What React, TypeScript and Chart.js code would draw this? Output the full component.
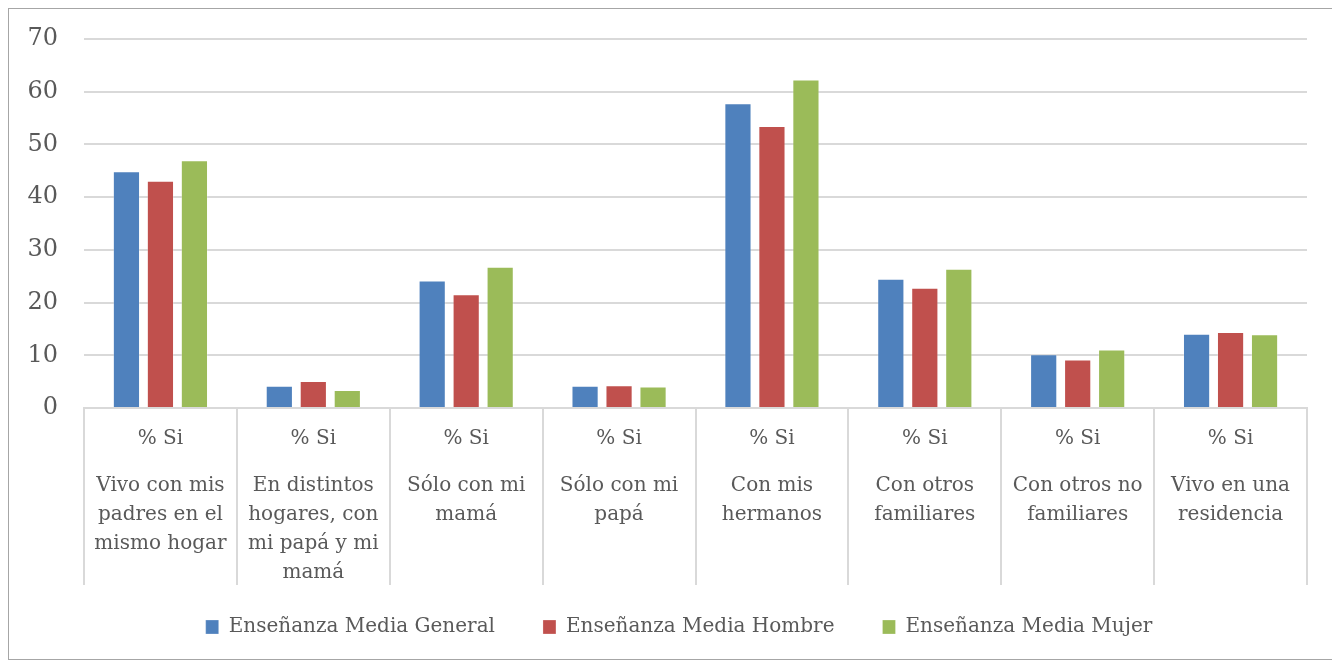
import React, { useEffect, useRef } from "react";
import { Chart, registerables } from "chart.js";

Chart.register(...registerables);

const subLabels = ["% Si", "% Si", "% Si", "% Si", "% Si", "% Si", "% Si", "% Si"];
const categories: string[][] = [
  ["Vivo con mis", "padres en el", "mismo hogar"],
  ["En distintos", "hogares, con", "mi papá y mi", "mamá"],
  ["Sólo con mi", "mamá"],
  ["Sólo con mi", "papá"],
  ["Con mis", "hermanos"],
  ["Con otros", "familiares"],
  ["Con otros no", "familiares"],
  ["Vivo en una", "residencia"],
];
const seriesNames = ["Enseñanza Media General", "Enseñanza Media Hombre", "Enseñanza Media Mujer"];
const generalValues = [44.9, 4.2, 24.2, 4.2, 57.8, 24.5, 10.2, 14.1];
const hombreValues = [43.1, 5.1, 21.6, 4.3, 53.5, 22.8, 9.2, 14.4];
const mujerValues = [47.0, 3.4, 26.8, 4.1, 62.3, 26.4, 11.1, 14.0];
const seriesColors = ["#4F81BD", "#C0504D", "#9BBB59"];
const yMax = 70;
const yStep = 10;

const FONT = "'DejaVu Serif', serif";
const TEXT = "#595959";
const GRID = "#D9D9D9";

const separatorPlugin = {
  id: "separators",
  afterLayout(chart: any) {
    const lg = chart.legend;
    if (lg) {
      lg.top -= 12;
      lg.bottom -= 12;
      lg.left += 21;
      lg.right += 21;
    }
  },
  afterDraw(chart: any) {
    const x = chart.scales.x;
    const x2 = chart.scales.x2;
    const ctx = chart.ctx;
    ctx.save();
    ctx.strokeStyle = GRID;
    ctx.lineWidth = 2;
    const endY = x2.top + 127;
    for (let i = 0; i <= subLabels.length; i++) {
      const px = Math.round(x.getPixelForValue(i - 0.5));
      ctx.beginPath();
      ctx.moveTo(px, chart.chartArea.bottom);
      ctx.lineTo(px, endY);
      ctx.stroke();
    }
    ctx.restore();
  },
};

export default function App() {
  const ref = useRef<HTMLCanvasElement>(null);
  useEffect(() => {
    if (!ref.current) return;
    const chart = new Chart(ref.current, {
      type: "bar",
      data: {
        labels: subLabels,
        datasets: [generalValues, hombreValues, mujerValues].map((d, i) => ({
          label: seriesNames[i],
          data: d,
          backgroundColor: seriesColors[i],
          borderColor: "rgba(255,255,255,0.25)",
          borderWidth: 1,
          categoryPercentage: 0.667,
          barPercentage: 0.8,
        })),
      },
      options: {
        animation: false,
        responsive: false,
        maintainAspectRatio: false,
        layout: { padding: { left: 0, right: 28, top: 30, bottom: 0 } },
        plugins: {
          tooltip: { enabled: false },
          legend: {
            position: "bottom",
            labels: {
              font: { family: FONT, size: 20 },
              color: TEXT,
              boxWidth: 13,
              boxHeight: 14,
              padding: 48,
            },
          },
        },
        scales: {
          x: {
            type: "category",
            labels: subLabels,
            position: "bottom",
            weight: 0,
            grid: { display: false },
            border: { display: true, color: GRID, width: 2 },
            ticks: {
              font: { family: FONT, size: 20 },
              color: TEXT,
              padding: 11,
              maxRotation: 0,
              autoSkip: false,
            },
            afterFit(scale: any) {
              scale.height = 50;
            },
          },
          x2: {
            type: "category",
            labels: categories as any,
            position: "bottom",
            weight: 1,
            offset: true,
            grid: { display: false },
            border: { display: false },
            ticks: {
              font: { family: FONT, size: 20, lineHeight: "29px" },
              color: TEXT,
              padding: 5,
              maxRotation: 0,
              autoSkip: false,
            },
            afterFit(scale: any) {
              scale.height = 123;
            },
          },
          y: {
            min: 0,
            max: yMax,
            grid: {
              color: GRID,
              lineWidth: 2,
              drawTicks: true,
              tickLength: 22,
              tickColor: "rgba(0,0,0,0)",
            },
            border: { display: false },
            ticks: {
              stepSize: yStep,
              font: { family: FONT, size: 24 },
              color: TEXT,
              padding: 4,
            },
            afterFit(scale: any) {
              scale.width = 75;
            },
          },
        },
      },
      plugins: [separatorPlugin],
    });
    return () => chart.destroy();
  }, []);

  return (
    <div
      style={{
        position: "relative",
        width: 1328,
        height: 652,
        border: "1px solid #A6A6A6",
        boxSizing: "border-box",
        background: "#fff",
      }}
    >
      <canvas ref={ref} width={1326} height={650} style={{ display: "block" }} />
    </div>
  );
}
